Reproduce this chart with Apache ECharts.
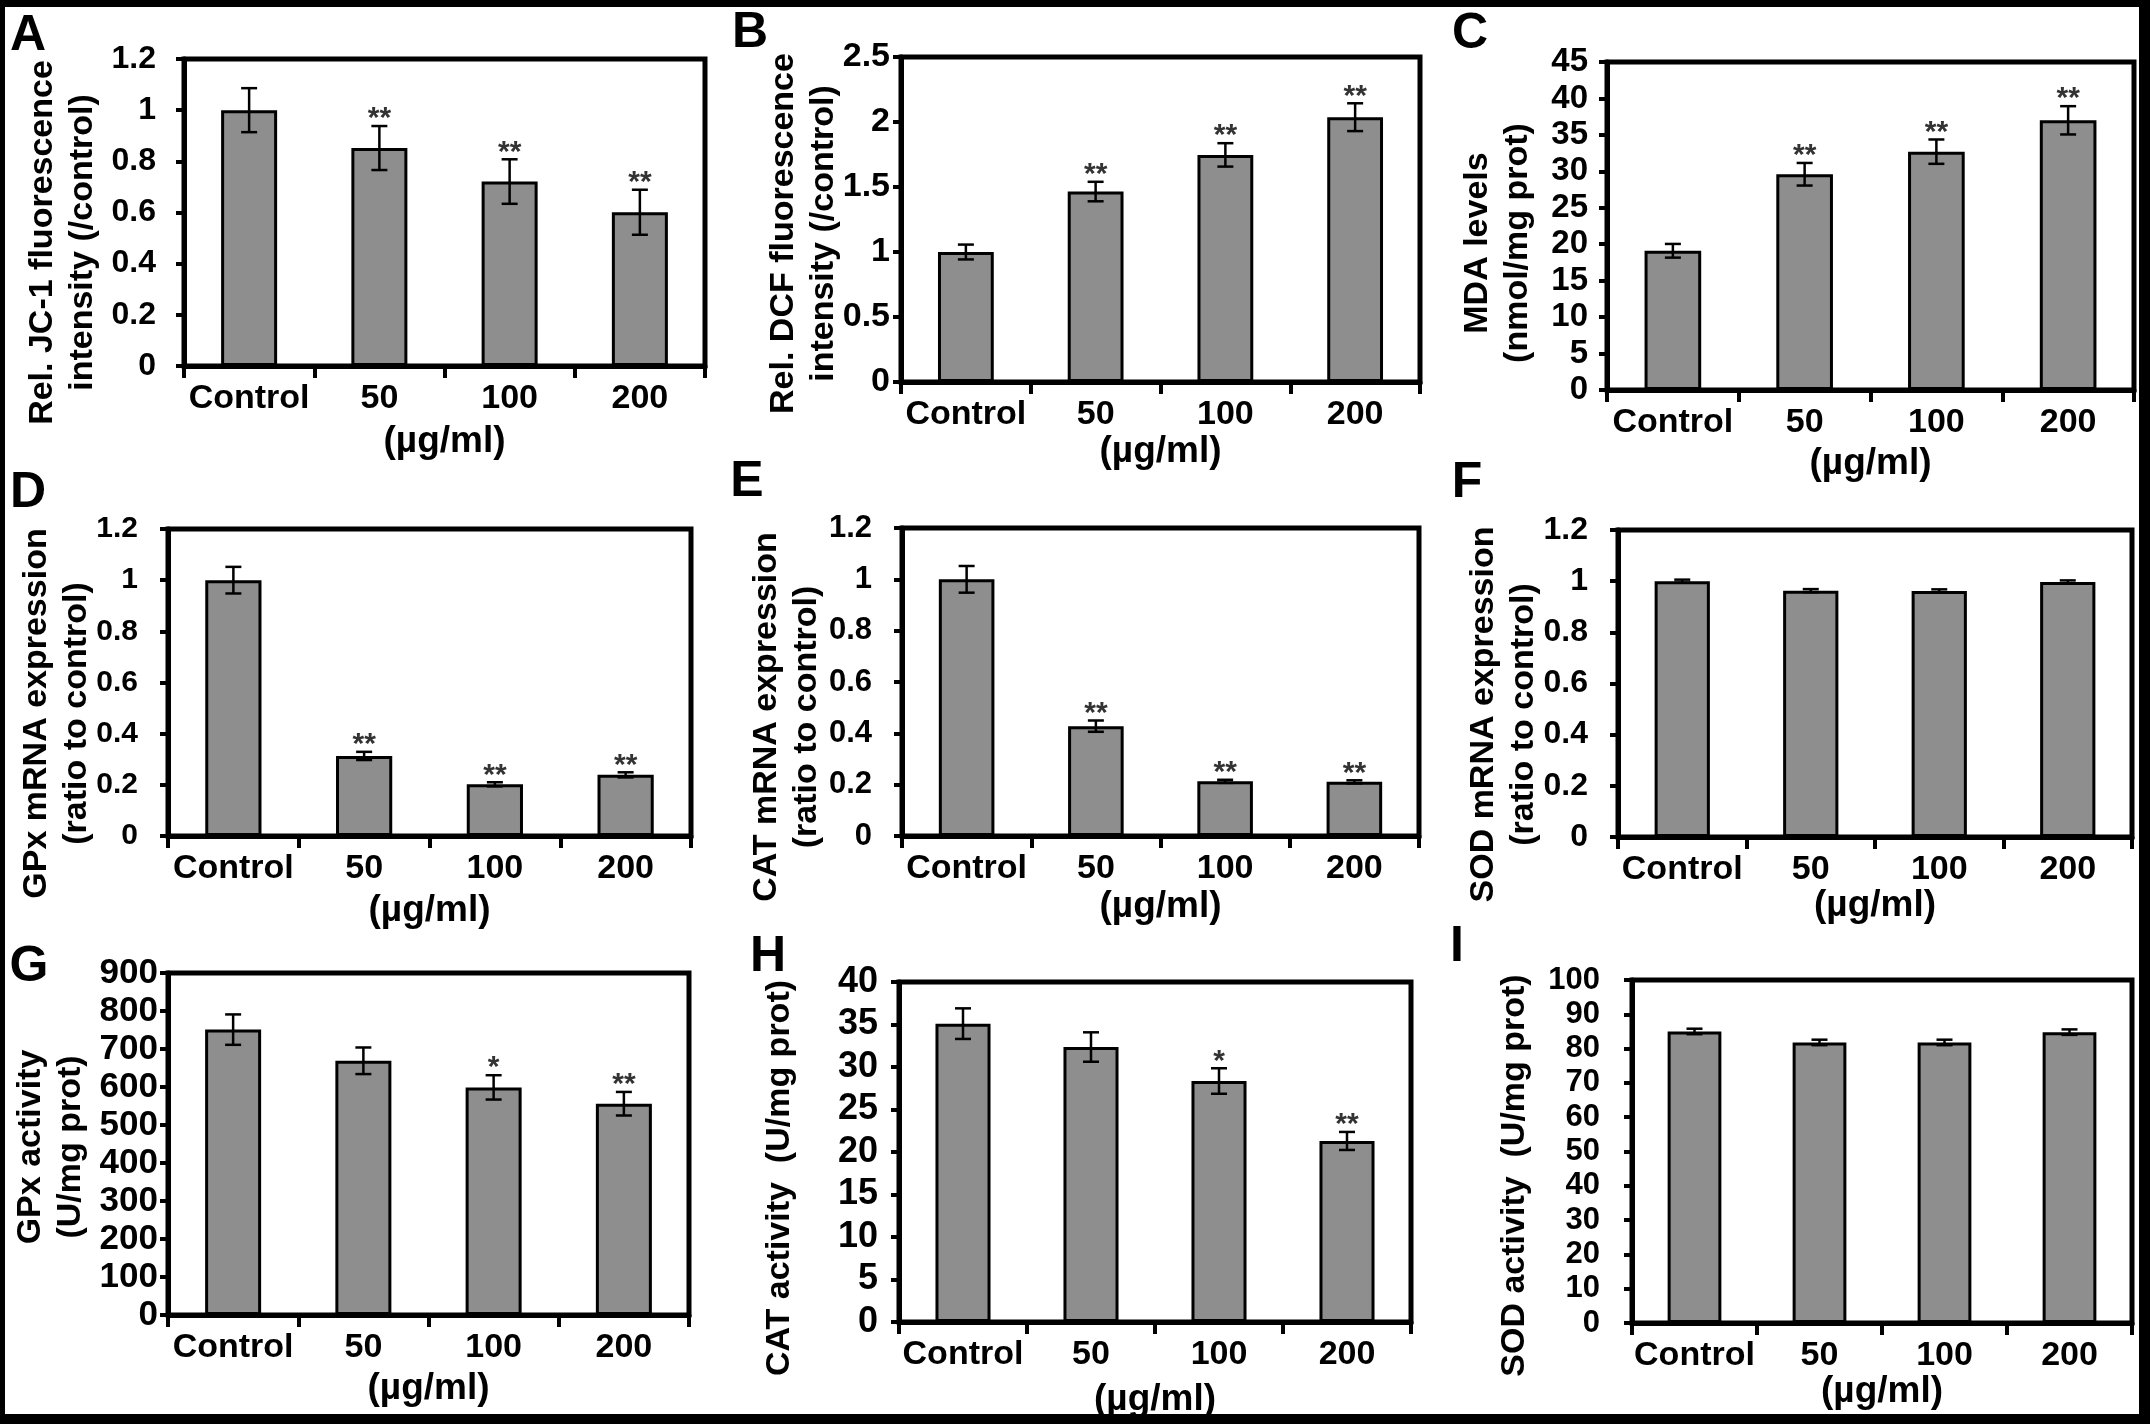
<!DOCTYPE html>
<html><head><meta charset="utf-8">
<script src="https://cdn.jsdelivr.net/npm/echarts@6/dist/echarts.min.js"></script>
<style>html,body{margin:0;padding:0;background:#fff}#c{width:2150px;height:1424px}</style>
</head><body><div id="c"></div>
<script>
// ---------- data ----------
const categories = ['Control', '50', '100', '200'];
const xAxisName = '(µg/ml)';

// A: JC-1
const jc1Mean = [1.0, 0.852, 0.721, 0.601];
const jc1Err = [0.086, 0.086, 0.087, 0.088];
const jc1Stars = ['', '**', '**', '**'];
// B: DCF
const dcfMean = [1.0, 1.465, 1.747, 2.037];
const dcfErr = [0.057, 0.075, 0.09, 0.107];
const dcfStars = ['', '**', '**', '**'];
// C: MDA
const mdaMean = [19.1, 29.6, 32.7, 37.0];
const mdaErr = [0.94, 1.55, 1.67, 1.94];
const mdaStars = ['', '**', '**', '**'];
// D: GPx mRNA
const gpxMrnaMean = [1.0, 0.313, 0.202, 0.239];
const gpxMrnaErr = [0.052, 0.016, 0.008, 0.01];
const gpxMrnaStars = ['', '**', '**', '**'];
// E: CAT mRNA
const catMrnaMean = [1.0, 0.428, 0.213, 0.211];
const catMrnaErr = [0.052, 0.022, 0.006, 0.006];
const catMrnaStars = ['', '**', '**', '**'];
// F: SOD mRNA
const sodMrnaMean = [1.0, 0.963, 0.962, 0.997];
const sodMrnaErr = [0.006, 0.006, 0.006, 0.006];
const sodMrnaStars = ['', '', '', ''];
// G: GPx activity
const gpxActMean = [751, 669, 599, 556];
const gpxActErr = [40, 35, 32, 31];
const gpxActStars = ['', '', '*', '**'];
// H: CAT activity
const catActMean = [35.1, 32.35, 28.35, 21.3];
const catActErr = [1.8, 1.73, 1.5, 1.06];
const catActStars = ['', '', '*', '**'];
// I: SOD activity
const sodActMean = [85.0, 81.8, 81.8, 84.8];
const sodActErr = [0.8, 0.8, 0.8, 0.8];
const sodActStars = ['', '', '', ''];

// y-axis ranges and tick steps
const yMaxes = [1.2, 2.5, 45, 1.2, 1.2, 1.2, 900, 40, 100];
const yIntervals = [0.2, 0.5, 5, 0.2, 0.2, 0.2, 100, 5, 10];
const yNames = [
  'Rel. JC-1 fluorescence\nintensity (/control)',
  'Rel. DCF fluorescence\nintensity (/control)',
  'MDA levels\n(nmol/mg prot)',
  'GPx mRNA expression\n(ratio to control)',
  'CAT mRNA expression\n(ratio to control)',
  'SOD mRNA expression\n(ratio to control)',
  'GPx activity\n(U/mg prot)',
  'CAT activity  (U/mg prot)',
  'SOD activity  (U/mg prot)'
];
const panelLetters = ['A', 'B', 'C', 'D', 'E', 'F', 'G', 'H', 'I'];

const means = [jc1Mean, dcfMean, mdaMean, gpxMrnaMean, catMrnaMean, sodMrnaMean, gpxActMean, catActMean, sodActMean];
const errs = [jc1Err, dcfErr, mdaErr, gpxMrnaErr, catMrnaErr, sodMrnaErr, gpxActErr, catActErr, sodActErr];
const stars = [jc1Stars, dcfStars, mdaStars, gpxMrnaStars, catMrnaStars, sodMrnaStars, gpxActStars, catActStars, sodActStars];

// ---------- layout (pixels) ----------
const layout = [
  {left: 184, top: 59, width: 521, height: 307, gapY: 81, shift: 30, gapX: 57, fy: 32, my: 28, lx: 28, ly: 36},
  {left: 901, top: 57, width: 519, height: 325, gapY: 57, shift: 14, gapX: 51, fy: 34, my: 11, lx: 750, ly: 33},
  {left: 1607, top: 62, width: 527, height: 328, gapY: 69, shift: 17, gapX: 55, fy: 33, my: 19, lx: 1470, ly: 34},
  {left: 168, top: 529, width: 523, height: 307, gapY: 71, shift: 31, gapX: 56, fy: 30, my: 30, lx: 28, ly: 493},
  {left: 902, top: 528, width: 517, height: 308, gapY: 75, shift: 35, gapX: 52, fy: 31, my: 30, lx: 747, ly: 482},
  {left: 1618, top: 530, width: 514, height: 307, gapY: 74, shift: 31, gapX: 50, fy: 32, my: 30, lx: 1467, ly: 483},
  {left: 168, top: 973, width: 521, height: 342, gapY: 77, shift: 3, gapX: 55, fy: 35, my: 10, lx: 29, ly: 967},
  {left: 899, top: 982, width: 512, height: 340, gapY: 99, shift: 26, gapX: 59, fy: 36, my: 21, lx: 768, ly: 957},
  {left: 1632, top: 980, width: 500, height: 343, gapY: 97, shift: 24, gapX: 50, fy: 31, my: 32, lx: 1457, ly: 947}
];

const FONT = '"Liberation Sans", Arial, sans-serif';
const grids = [], xAxes = [], yAxes = [], series = [], graphics = [];

layout.forEach((L, k) => {
  grids.push({
    left: L.left, top: L.top, width: L.width, height: L.height,
    show: true, borderColor: '#000', borderWidth: 5, backgroundColor: 'transparent',
    containLabel: false, outerBoundsMode: 'none'
  });
  xAxes.push({
    type: 'category', gridIndex: k, data: categories,
    boundaryGap: true,
    name: xAxisName, nameLocation: 'middle', nameGap: L.gapX, nameMoveOverlap: false,
    nameTextStyle: {fontFamily: FONT, fontWeight: 'bold', fontSize: 37, color: '#000'},
    axisLine: {show: true, lineStyle: {color: '#000', width: 5}},
    axisTick: {show: true, alignWithLabel: false, inside: false, length: 12, lineStyle: {color: '#000', width: 4}},
    axisLabel: {show: true, interval: 0, margin: 16, fontFamily: FONT, fontWeight: 'bold', fontSize: 34, color: '#000'},
    splitLine: {show: false}
  });
  yAxes.push({
    type: 'value', gridIndex: k, min: 0, max: yMaxes[k], interval: yIntervals[k],
    name: yNames[k], nameLocation: 'middle', nameRotate: 90, nameGap: L.gapY, nameMoveOverlap: false,
    nameTextStyle: {fontFamily: FONT, fontWeight: 'bold', fontSize: 34, lineHeight: 40, color: '#000',
      padding: [0, 2 * L.shift, 0, 0]},
    axisLine: {show: true, lineStyle: {color: '#000', width: 5}},
    axisTick: {show: true, inside: false, length: 8, lineStyle: {color: '#000', width: 4}},
    axisLabel: {show: true, margin: L.my, fontFamily: FONT, fontWeight: 'bold', fontSize: L.fy, color: '#000'},
    splitLine: {show: false}
  });
  series.push({
    type: 'bar', xAxisIndex: k, yAxisIndex: k, data: means[k], barWidth: '43%',
    itemStyle: {color: '#8e8e8e', borderColor: '#000', borderWidth: 3},
    silent: true, animation: false
  });
  const st = stars[k];
  series.push({
    type: 'custom', xAxisIndex: k, yAxisIndex: k, z: 5, silent: true, animation: false,
    data: categories.map((c, i) => [i, means[k][i], errs[k][i]]),
    encode: {x: 0, y: 1},
    renderItem: function (params, api) {
      const i = api.value(0), m = api.value(1), e = api.value(2);
      const top = api.coord([i, m + e]);
      const bot = api.coord([i, m - e]);
      const x = top[0], cap = 8;
      const ls = {stroke: '#000', lineWidth: 2.5};
      const children = [
        {type: 'line', shape: {x1: x, y1: top[1], x2: x, y2: bot[1]}, style: ls},
        {type: 'line', shape: {x1: x - cap, y1: top[1], x2: x + cap, y2: top[1]}, style: ls},
        {type: 'line', shape: {x1: x - cap, y1: bot[1], x2: x + cap, y2: bot[1]}, style: ls}
      ];
      const s = st[params.dataIndex];
      if (s) {
        children.push({type: 'text', x: x, y: top[1] + 8,
          style: {text: s, textAlign: 'center', textVerticalAlign: 'bottom',
            font: 'bold 30px ' + FONT, fill: '#333'}});
      }
      return {type: 'group', children: children};
    }
  });
  graphics.push({
    type: 'text', x: L.lx, y: L.ly, silent: true,
    style: {text: panelLetters[k], textAlign: 'center', textVerticalAlign: 'middle',
      font: 'bold 50px ' + FONT, fill: '#000'}
  });
});

// black frame around the figure
graphics.push({type: 'rect', shape: {x: 0, y: 0, width: 2150, height: 7}, style: {fill: '#000'}, silent: true});
graphics.push({type: 'rect', shape: {x: 0, y: 0, width: 5, height: 1424}, style: {fill: '#000'}, silent: true});
graphics.push({type: 'rect', shape: {x: 2139, y: 0, width: 11, height: 1424}, style: {fill: '#000'}, silent: true});
graphics.push({type: 'rect', shape: {x: 0, y: 1414, width: 2150, height: 10}, style: {fill: '#000'}, silent: true});

const chart = echarts.init(document.getElementById('c'), null, {renderer: 'canvas'});
chart.setOption({
  animation: false,
  backgroundColor: '#fff',
  grid: grids, xAxis: xAxes, yAxis: yAxes, series: series,
  graphic: {elements: graphics}
});
</script>
</body></html>
